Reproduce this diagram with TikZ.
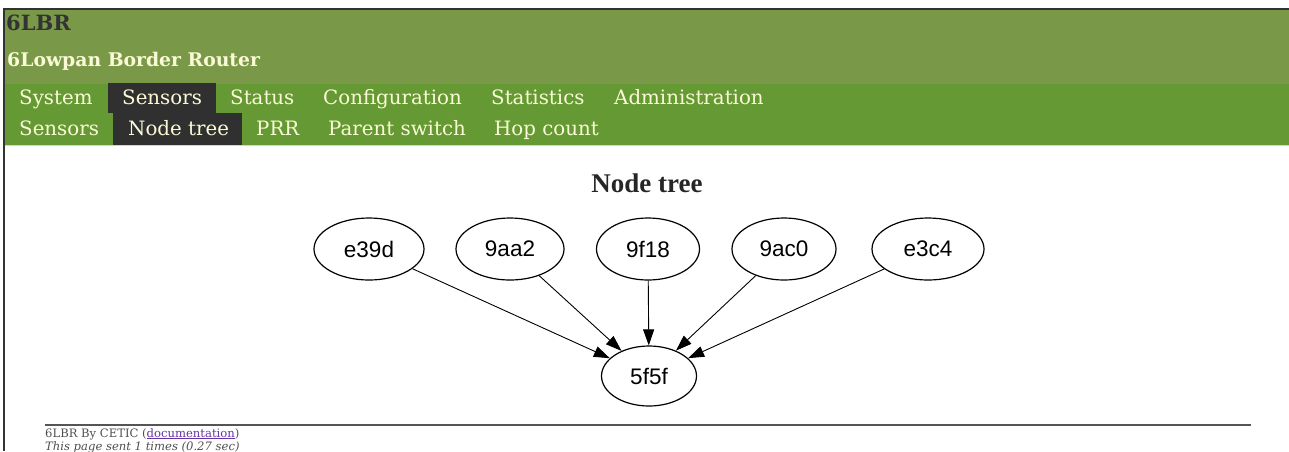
\documentclass[tikz,border=0pt]{standalone}
\usepackage{fontspec}
\setmainfont{DejaVu Serif}
\newfontfamily\graphfont{Liberation Sans}
\newfontfamily\titlefont{Liberation Serif}
\usetikzlibrary{shapes.geometric,arrows.meta}

\definecolor{headgreen}{RGB}{122,153,72}
\definecolor{menugreen}{RGB}{101,153,51}
\definecolor{menutext}{RGB}{250,250,215}
\definecolor{activebg}{RGB}{48,48,48}
\definecolor{framegray}{RGB}{51,51,51}
\definecolor{rulegray}{RGB}{85,85,85}
\definecolor{footgray}{RGB}{80,80,80}
\definecolor{linkpurple}{RGB}{102,51,170}
\definecolor{paleline}{RGB}{200,225,170}

\tikzset{
  menuitem/.style={anchor=base west, inner sep=0pt, text=menutext,
    font=\fontsize{19.8}{22}\selectfont},
  sensor/.style={ellipse, draw=black, line width=1.2pt, inner sep=0pt,
    font=\graphfont\fontsize{22.5}{25}\selectfont},
  link/.style={draw=black, line width=0.9pt,
    -{Triangle[length=16pt,width=11pt]}},
  footline/.style={anchor=base west, inner sep=0pt, text=footgray,
    font=\fontsize{11.6}{13}\selectfont},
}

\begin{document}
\begin{tikzpicture}[x=1pt,y=-1pt]
\useasboundingbox (0,0) rectangle (1289,451);
\fill[white] (0,0) rectangle (1289,451);

% page header and menu bars
\fill[headgreen] (4,9) rectangle (1289,84);
\fill[menugreen] (4,84) rectangle (1289,145);
\draw[paleline, line width=1.5pt] (4,145.5) -- (1289,145.5);
\fill[activebg] (108,83) rectangle (216,113);
\fill[activebg] (113,113) rectangle (242,145);
\draw[framegray, line width=2pt] (3,9) -- (1289,9);
\draw[framegray, line width=1.5pt] (4,8) -- (4,451);

\node[anchor=base west, inner sep=0pt, text=framegray,
  font=\bfseries\fontsize{21}{24}\selectfont] (brand) at (6,30) {6LBR};
\node[anchor=base west, inner sep=0pt, text=menutext,
  font=\bfseries\fontsize{18.8}{22}\selectfont] (subtitle) at (7,66) {6Lowpan Border Router};

% main menu
\node[menuitem] (mSystem) at (19,104) {System};
\node[menuitem] (mSensors) at (122,104) {Sensors};
\node[menuitem] (mStatus) at (230,104) {Status};
\node[menuitem] (mConfig) at (323,104) {Configuration};
\node[menuitem] (mStats) at (491,104) {Statistics};
\node[menuitem] (mAdmin) at (614,104) {Administration};

% sub menu
\node[menuitem] (sSensors) at (19,135) {Sensors};
\node[menuitem] (sTree) at (128,135) {Node tree};
\node[menuitem] (sPRR) at (256,135) {PRR};
\node[menuitem] (sParent) at (328,135) {Parent switch};
\node[menuitem] (sHop) at (494,135) {Hop count};

% node tree graph
\node[inner sep=0pt, text=black!85, font=\titlefont\bfseries\fontsize{27}{30}\selectfont]
  (title) at (647,183) {Node tree};

\node[sensor, minimum width=110pt, minimum height=62pt] (e39d) at (369,249) {e39d};
\node[sensor, minimum width=108pt, minimum height=62pt] (n9aa2) at (510,249) {9aa2};
\node[sensor, minimum width=103pt, minimum height=62pt] (n9f18) at (648,249) {9f18};
\node[sensor, minimum width=104pt, minimum height=62pt] (n9ac0) at (784,249) {9ac0};
\node[sensor, minimum width=112pt, minimum height=62pt] (e3c4) at (928,249) {e3c4};
\node[sensor, minimum width=95pt, minimum height=60pt] (n5f5f) at (649,376) {5f5f};

\draw[link] (e39d) -- (n5f5f);
\draw[link] (n9aa2) -- (n5f5f);
\draw[link] (n9f18) -- (n5f5f);
\draw[link] (n9ac0) -- (n5f5f);
\draw[link] (e3c4) -- (n5f5f);

% footer
\draw[rulegray, line width=2pt] (45,425) -- (1251,425);
\node[footline] (credit) at (45,437)
  {6LBR By CETIC (\textcolor{linkpurple}{\underline{documentation}})};
\node[footline, font=\itshape\fontsize{11.6}{13}\selectfont] (timing) at (45,450)
  {This page sent 1 times (0.27 sec)};
\end{tikzpicture}
\end{document}
